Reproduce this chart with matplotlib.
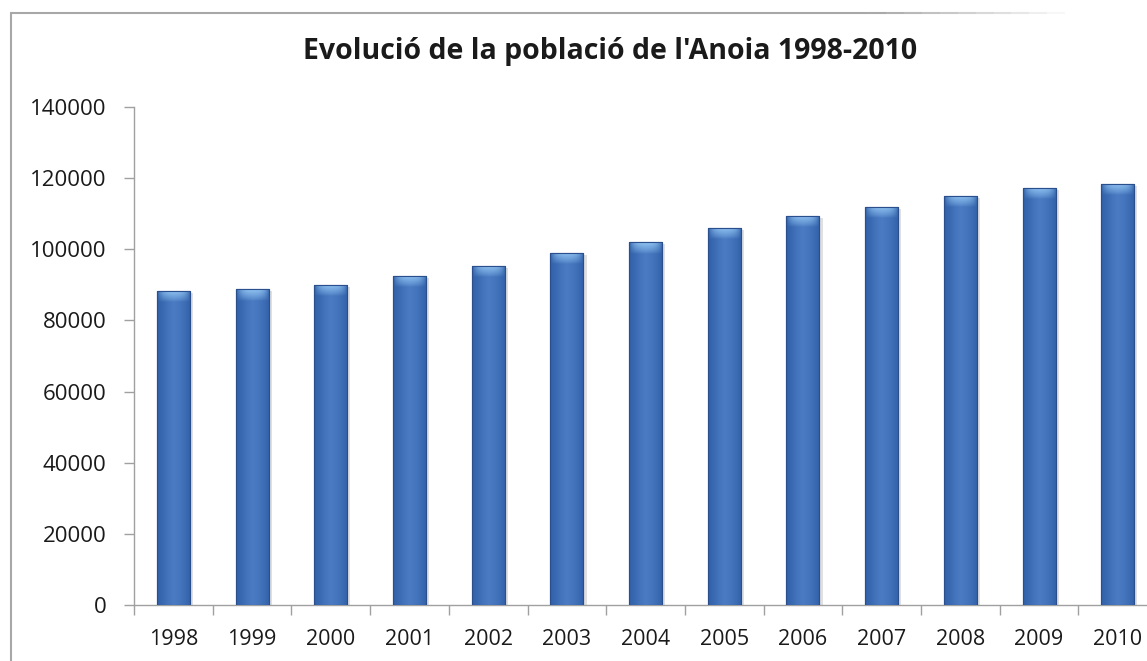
import numpy as np
import matplotlib
matplotlib.use("Agg")
import matplotlib.pyplot as plt
from matplotlib.collections import LineCollection
from matplotlib.lines import Line2D

years = ["1998", "1999", "2000", "2001", "2002", "2003", "2004",
         "2005", "2006", "2007", "2008", "2009", "2010"]
population = [88300, 88800, 90000, 92500, 95300, 99000, 102000,
              106000, 109400, 111900, 115000, 117200, 118400]
yticks = [0, 20000, 40000, 60000, 80000, 100000, 120000, 140000]
title = "Evolució de la població de l'Anoia 1998-2010"

W, H = 1147, 661
fig = plt.figure(figsize=(W / 100, H / 100), dpi=100)
plt.rcParams['font.family'] = ['Open Sans', 'DejaVu Sans']

ax = fig.add_axes([134 / W, (H - 605) / H, 13 * 78.7 / W, (605 - 107) / H])
x = np.arange(len(years))
bars = ax.bar(x, population, width=0.42, color='#3b6cb4',
              edgecolor='#2c5494', linewidth=0.8, zorder=2)

# gradient fill for each bar: darker sides, lighter centre, highlighted top
grad_w = np.array([0.0, 0.25, 0.55, 0.75, 0.6, 0.35, 0.0])
for b in bars:
    x0, y0 = b.get_x(), b.get_y()
    w, h = b.get_width(), b.get_height()
    # soft shadow
    ax.add_patch(plt.Rectangle((x0 + 0.02, y0 - 600), w + 0.02, h, facecolor='#000000',
                               alpha=0.12, edgecolor='none', zorder=1))
    img = np.zeros((100, 60, 4))
    t = np.interp(np.linspace(0, 1, 60), np.linspace(0, 1, len(grad_w)), grad_w)
    base = np.array([0.19, 0.38, 0.66])
    light = np.array([0.33, 0.52, 0.80])
    for i in range(3):
        img[:, :, i] = base[i] + (light[i] - base[i]) * t[None, :]
    img[:, :, 3] = 1.0
    im = ax.imshow(img, extent=[x0, x0 + w, y0, y0 + h], aspect='auto',
                   origin='lower', zorder=3)
    im.set_clip_path(b)
    # top cap highlight
    cap = 3200
    cap_img = np.zeros((30, 60, 4))
    tt = np.linspace(0, 1, 30)[:, None] ** 0.8
    cap_col = np.array([0.58, 0.78, 0.96])
    for i in range(3):
        cap_img[:, :, i] = cap_col[i]
    edge = np.clip(1 - np.abs(np.linspace(-1, 1, 60)) ** 3, 0, 1)[None, :]
    cap_img[:, :, 3] = 0.95 * tt * edge
    ci = ax.imshow(cap_img, extent=[x0, x0 + w, y0 + h - cap, y0 + h],
                   aspect='auto', origin='lower', zorder=4)
    ci.set_clip_path(b)
    ax.add_patch(plt.Rectangle((x0, y0), w, h, fill=False,
                               edgecolor='#2a4f8c', linewidth=0.8, zorder=5))

ax.set_xlim(-0.5, len(years) - 0.5)
ax.set_ylim(0, 140000)
ax.set_yticks(yticks)
ax.set_yticklabels([str(v) for v in yticks], fontsize=16, color='#1a1a1a')
ax.set_xticks(x)
ax.set_xticklabels(years, fontsize=15.5, color='#1a1a1a')
ax.set_xticks(np.arange(-0.5, len(years), 1.0), minor=True)
ax.tick_params(axis='x', which='major', length=0, pad=17)
ax.tick_params(axis='x', which='minor', length=7, color='#a0a0a0', width=1)
ax.tick_params(axis='y', length=7, color='#a0a0a0', width=1, pad=13)
for s in ['top', 'right']:
    ax.spines[s].set_visible(False)
for s in ['left', 'bottom']:
    ax.spines[s].set_color('#a0a0a0')
    ax.spines[s].set_linewidth(1)

fig.text(610 / W, 1 - 52 / H, title, ha='center', va='center',
         fontsize=20.5, fontweight='bold', color='#1a1a1a')

# outer chart border (top fades out at right)
fig.add_artist(Line2D([11 / W, 11 / W], [0, 1 - 13 / H], color='#a8a8a8',
                      lw=1.5, transform=fig.transFigure))
xs = np.linspace(11, 1065, 60)
segs = [[(xs[i] / W, 1 - 13 / H), (xs[i + 1] / W, 1 - 13 / H)] for i in range(len(xs) - 1)]
alphas = np.clip((1065 - xs[:-1]) / 200, 0, 1)
cols = [(0.66, 0.66, 0.66, a) for a in alphas]
fig.add_artist(LineCollection(segs, colors=cols, linewidths=1.5,
                              transform=fig.transFigure))

fig.savefig("out.png", dpi=100)
